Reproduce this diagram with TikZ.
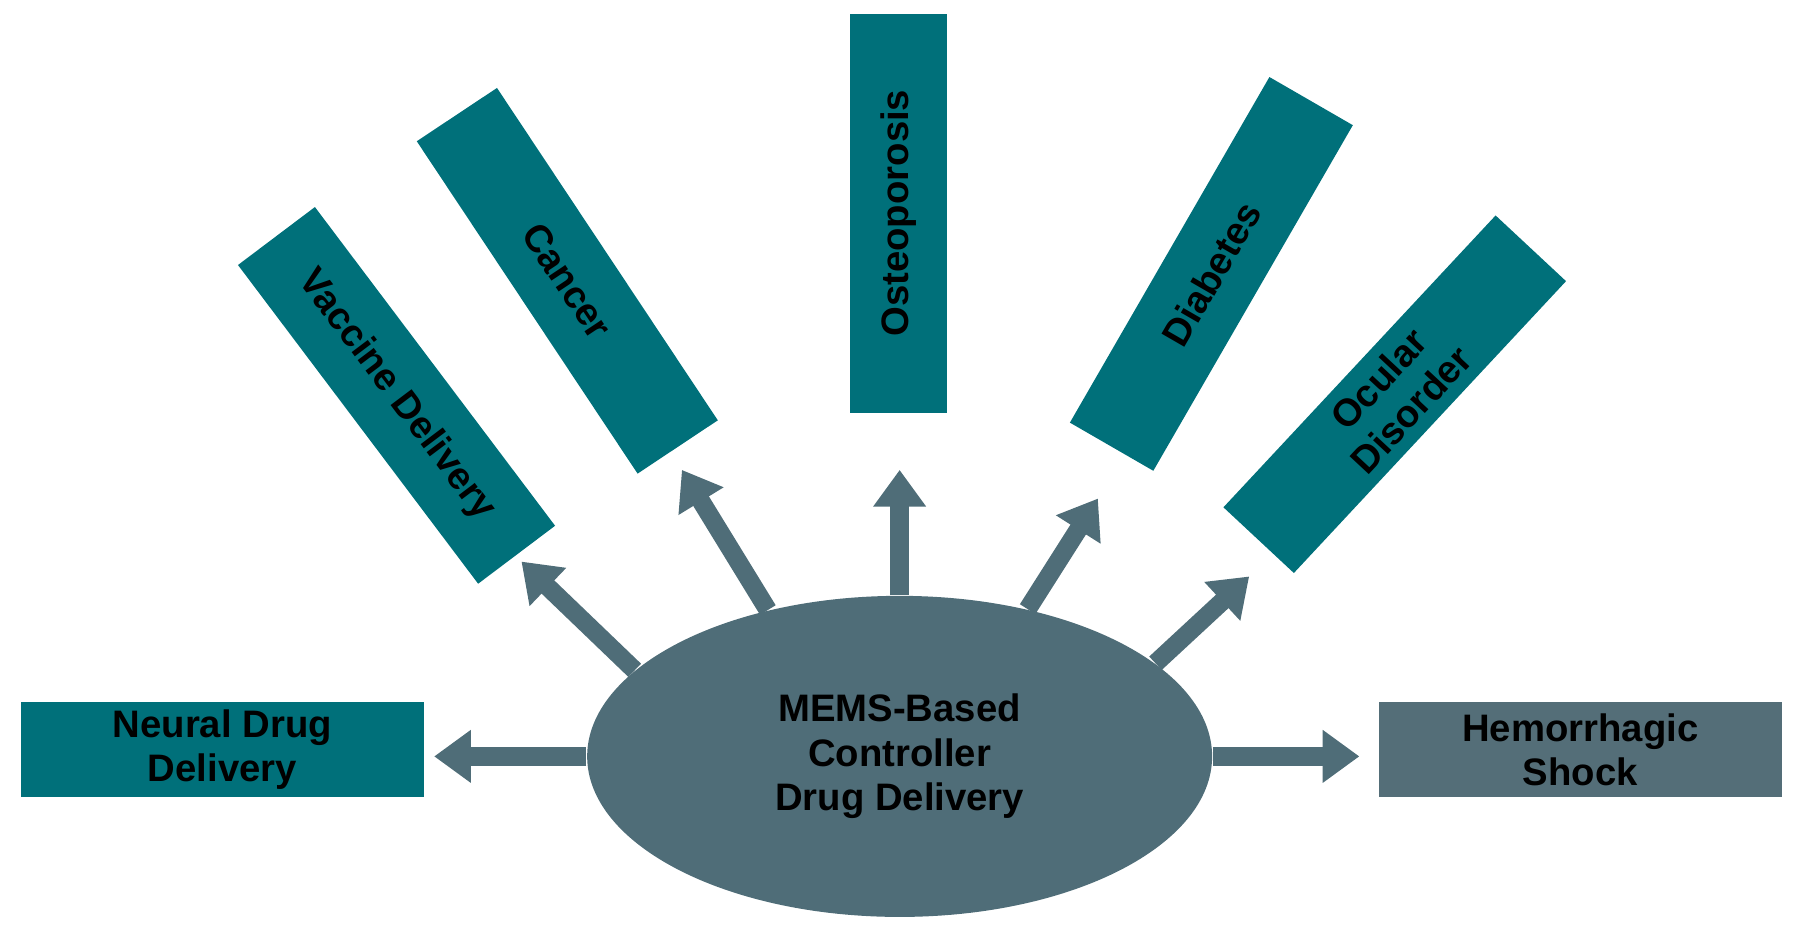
\documentclass[tikz,border=0pt]{standalone}
\usepackage{fontspec}
\setmainfont{Liberation Sans}
\usetikzlibrary{arrows.meta,shapes.geometric}
\definecolor{teal}{HTML}{00707A}
\definecolor{slate}{HTML}{4F6D78}
\definecolor{slatebox}{HTML}{546E78}
\tikzset{
  box/.style={draw=none, fill=teal, minimum width=3.48cm, minimum height=0.84cm,
    align=center, font=\fontsize{9.5}{11}\selectfont\bfseries, inner sep=1pt},
  arr/.style={draw=slate, line width=0.16cm,
    -{Triangle[width=0.44cm,length=0.32cm]}}
}
\begin{document}
\begin{tikzpicture}[x=0.01cm,y=-0.01cm]
  \useasboundingbox (0,0) rectangle (1568,815);
  % centre
  \node[ellipse, fill=slate, minimum width=5.45cm, minimum height=2.8cm, align=center,
    font=\fontsize{9.5}{11}\selectfont\bfseries] (ctrl) at (785,660)
    {MEMS-Based\\Controller\\Drug Delivery};
  % targets
  \node[box, minimum width=3.52cm, minimum height=0.82cm] (neural) at (194,654) {Neural Drug\\Delivery};
  \node[box, fill=slatebox, minimum width=3.52cm, minimum height=0.82cm] (shock) at (1379,654) {Hemorrhagic\\Shock};
  \node[box, rotate=-53] (vaccine) at (346,345) {Vaccine Delivery};
  \node[box, rotate=-56.4] (cancer) at (495,245) {Cancer};
  \node[box, rotate=90] (osteo) at (784,186) {Osteoporosis};
  \node[box, rotate=60] (diab) at (1057,239) {Diabetes};
  \node[box, rotate=47] (ocular) at (1217,344) {Ocular\\Disorder};
  % arrow tips
  \coordinate (tipA) at (455,490);
  \coordinate (tipB) at (595,410);
  \coordinate (tipC) at (785,410);
  \coordinate (tipD) at (958,435);
  \coordinate (tipE) at (1090,503);
  \draw[arr] (ctrl.west) -- ([xshift=0.08cm]ctrl.west -| neural.east);
  \draw[arr] (ctrl.east) -- ([xshift=-0.16cm]ctrl.east -| shock.west);
  \draw[arr] (ctrl.162) -- (tipA);
  \draw[arr] (ctrl.132) -- (tipB);
  \draw[arr] (ctrl.90) -- (tipC);
  \draw[arr] (ctrl.49) -- (tipD);
  \draw[arr] (ctrl.20) -- (tipE);
\end{tikzpicture}
\end{document}
